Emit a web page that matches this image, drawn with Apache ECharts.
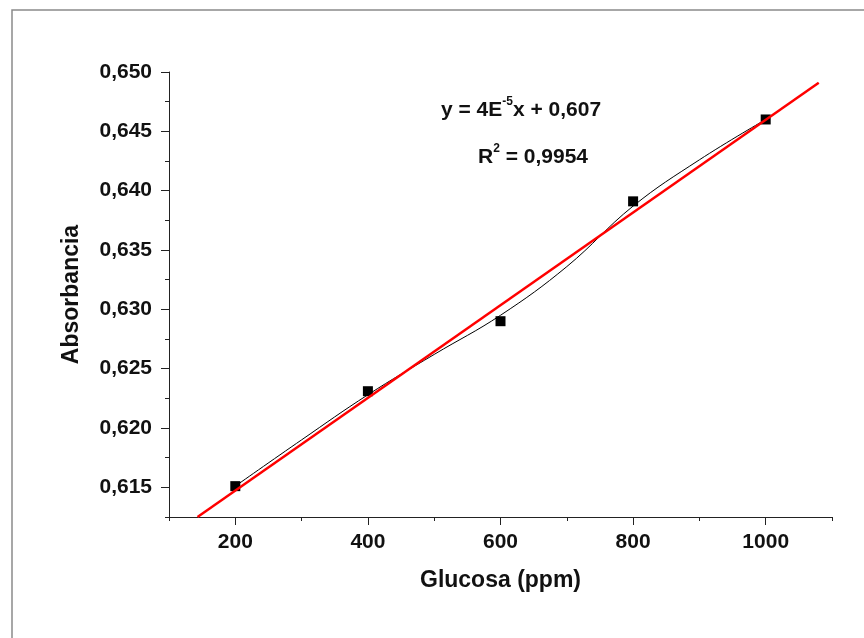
<!DOCTYPE html>
<html>
<head>
<meta charset="utf-8">
<script src="https://cdn.jsdelivr.net/npm/echarts@6/dist/echarts.min.js"></script>
<style>
	html, body { margin: 0; padding: 0; background: #fff; }
	#chart { width: 864px; height: 638px; }
</style>
</head>
<body>
<div id="chart"></div>
<script>
// datos medidos
var concentracion = [200, 400, 600, 800, 1000];
var absorbancia = [0.6151, 0.6231, 0.6290, 0.6391, 0.6460];

// curva suave (negra)
var curvaX = [200, 300, 400, 500, 600, 700, 800, 900, 1000];
var curvaY = [0.6151, 0.6190, 0.6228, 0.6262, 0.6295, 0.6336, 0.6387, 0.6426, 0.6460];

// recta de ajuste (roja), extremos
var ajusteX = [143, 1080];
var ajusteY = [0.6125, 0.6491];

// marcas de los ejes
var xEtiquetas = [200, 400, 600, 800, 1000];
var xMenores = [100, 300, 500, 700, 900, 1100];
var yEtiquetas = [0.615, 0.620, 0.625, 0.630, 0.635, 0.640, 0.645, 0.650];
var yMenores = [0.6125, 0.6175, 0.6225, 0.6275, 0.6325, 0.6375, 0.6425, 0.6475];

function pares(xs, ys) {
	var out = [];
	for (var i = 0; i < xs.length; i++) out.push([xs[i], ys[i]]);
	return out;
}

var fuente = 'Liberation Sans, Arial, sans-serif';
var ejeColor = '#222';

var myChart = echarts.init(document.getElementById('chart'));
var option = {
	animation: false,
	backgroundColor: '#fff',
	grid: { left: 169, top: 72, right: 32, bottom: 121 },
	xAxis: [{
		type: 'value', min: 100, max: 1100,
		name: 'Glucosa (ppm)', nameLocation: 'middle', nameGap: 52,
		nameTextStyle: { fontFamily: fuente, fontWeight: 'bold', fontSize: 23, color: '#111' },
		axisLine: { lineStyle: { color: ejeColor, width: 1 } },
		axisTick: { show: true, length: 8, customValues: xEtiquetas, lineStyle: { color: ejeColor } },
		axisLabel: {
			customValues: xEtiquetas, margin: 15, fontFamily: fuente, fontWeight: 'bold', fontSize: 21, color: '#111',
			formatter: function (v) { return String(v); }
		},
		splitLine: { show: false }
	}, {
		type: 'value', min: 100, max: 1100, position: 'bottom',
		axisLine: { show: false },
		axisTick: { show: true, length: 4, customValues: xMenores, lineStyle: { color: ejeColor } },
		axisLabel: { show: false },
		splitLine: { show: false }
	}],
	yAxis: [{
		type: 'value', min: 0.6125, max: 0.650,
		name: 'Absorbancia', nameLocation: 'middle', nameGap: 86,
		nameTextStyle: { fontFamily: fuente, fontWeight: 'bold', fontSize: 23, color: '#111' },
		axisLine: { show: true, lineStyle: { color: ejeColor, width: 1 } },
		axisTick: { show: true, length: 8, customValues: yEtiquetas, lineStyle: { color: ejeColor } },
		axisLabel: {
			customValues: yEtiquetas, margin: 17, fontFamily: fuente, fontWeight: 'bold', fontSize: 21, color: '#111',
			formatter: function (v) { return v.toFixed(3).replace('.', ','); }
		},
		splitLine: { show: false }
	}, {
		type: 'value', min: 0.6125, max: 0.650, position: 'left',
		axisLine: { show: false },
		axisTick: { show: true, length: 4, customValues: yMenores, lineStyle: { color: ejeColor } },
		axisLabel: { show: false },
		splitLine: { show: false }
	}],
	series: [{
		type: 'scatter',
		data: pares(concentracion, absorbancia),
		symbol: 'rect', symbolSize: 10,
		itemStyle: { color: '#000', opacity: 1 },
		z: 2
	}, {
		type: 'line',
		data: pares(curvaX, curvaY),
		smooth: 0.4, showSymbol: false,
		lineStyle: { color: '#000', width: 1 },
		z: 3
	}, {
		type: 'line',
		data: pares(ajusteX, ajusteY),
		showSymbol: false, clip: false,
		lineStyle: { color: '#ff0000', width: 2.5 },
		z: 4
	}],
	graphic: [{
		type: 'polyline',
		shape: { points: [[12, 640], [12, 10], [866, 10]] },
		style: { stroke: '#8a8a8a', lineWidth: 1.5, fill: null }
	}, {
		type: 'text', x: 521, y: 110,
		style: {
			text: '{m|y = 4E}{s|-5}{m|x + 0,607}',
			align: 'center', verticalAlign: 'middle',
			rich: {
				m: { fontFamily: fuente, fontWeight: 'bold', fontSize: 21, lineHeight: 28, fill: '#111' },
				s: { fontFamily: fuente, fontWeight: 'bold', fontSize: 12, lineHeight: 12, verticalAlign: 'top', fill: '#111' }
			}
		}
	}, {
		type: 'text', x: 533, y: 157,
		style: {
			text: '{m|R}{s|2}{m| = 0,9954}',
			align: 'center', verticalAlign: 'middle',
			rich: {
				m: { fontFamily: fuente, fontWeight: 'bold', fontSize: 21, lineHeight: 28, fill: '#111' },
				s: { fontFamily: fuente, fontWeight: 'bold', fontSize: 12, lineHeight: 12, verticalAlign: 'top', fill: '#111' }
			}
		}
	}]
};
myChart.setOption(option);
</script>
</body>
</html>
